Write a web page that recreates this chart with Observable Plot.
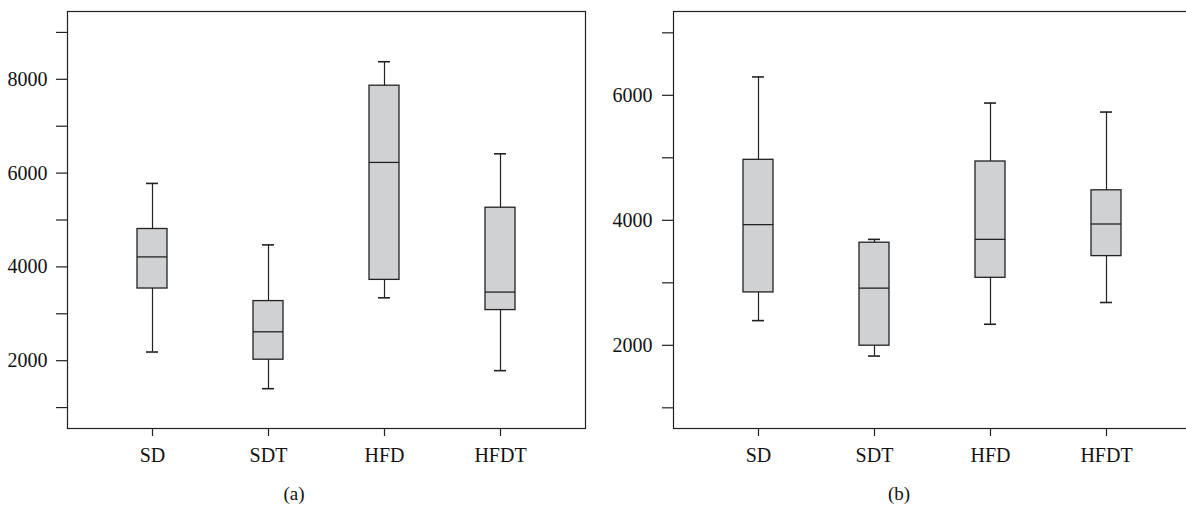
<!DOCTYPE html>
<html>
<head>
<meta charset="utf-8">
<script src="https://cdn.jsdelivr.net/npm/d3@7"></script>
<script src="https://cdn.jsdelivr.net/npm/@observablehq/plot@0.6"></script>
<style>
  html, body { margin: 0; padding: 0; background: #fff; }
  #wrap { position: relative; width: 1186px; height: 505px; overflow: hidden; background: #fff; }
  .panel { position: absolute; top: 0; }
  .cap { position: absolute; width: 100px; text-align: center; font-family: "Liberation Serif", "Times New Roman", serif; font-size: 19px; line-height: 19px; color: #111; }
</style>
</head>
<body>
<div id="wrap"></div>
<script>
const categories = ["SD", "SDT", "HFD", "HFDT"];

// Panel (a)
const aMin = [2185, 1403, 3341, 1787];
const aQ1  = [3539, 2021, 3723, 3079];
const aMed = [4213, 2616, 6228, 3463];
const aQ3  = [4808, 3271, 7864, 5262];
const aMax = [5780, 4469, 8375, 6411];
const aTicks = [1000, 2000, 3000, 4000, 5000, 6000, 7000, 8000, 9000];
const aDomain = [554, 9446];

// Panel (b)
const bMin = [2395, 1828, 2337, 2685];
const bQ1  = [2846, 1994, 3080, 3427];
const bMed = [3931, 2915, 3695, 3941];
const bQ3  = [4968, 3642, 4941, 4480];
const bMax = [6294, 3695, 5876, 5732];
const bTicks = [1000, 2000, 3000, 4000, 5000, 6000, 7000];
const bDomain = [669, 7341];

const panelLabels = ["(a)", "(b)"];

function rows(mins, q1s, meds, q3s, maxs) {
  return categories.map((c, i) => ({cat: c, min: mins[i], q1: q1s[i], med: meds[i], q3: q3s[i], max: maxs[i]}));
}

function boxPlot(data, ticks, domain, opts) {
  const ink = "#222";
  return Plot.plot({
    width: opts.width,
    height: 470,
    marginLeft: opts.marginLeft,
    marginRight: opts.marginRight,
    marginTop: 11,
    marginBottom: 42,
    style: {fontFamily: '"Liberation Serif", "Times New Roman", serif', fontSize: "20px", color: "#111", background: "transparent"},
    x: {type: "band", domain: categories, paddingInner: 0.74, paddingOuter: 0.6, axis: null, label: null},
    y: {domain: domain, axis: null, label: null},
    marks: [
      Plot.ruleX(data, {x: "cat", y1: "min", y2: "max", stroke: ink, strokeWidth: 1.2}),
      Plot.tickY(data, {x: "cat", y: "min", stroke: ink, strokeWidth: 1.6, insetLeft: 9, insetRight: 9}),
      Plot.tickY(data, {x: "cat", y: "max", stroke: ink, strokeWidth: 1.6, insetLeft: 9, insetRight: 9}),
      Plot.barY(data, {x: "cat", y1: "q1", y2: "q3", fill: "#d0d1d3", stroke: ink, strokeWidth: 1.3}),
      Plot.tickY(data, {x: "cat", y: "med", stroke: ink, strokeWidth: 1.3}),
      Plot.axisY({ticks: ticks, tickSize: 11, tickPadding: opts.tickPadding, tickFormat: d => (d % 2000 === 0 ? String(d) : ""), stroke: ink, strokeWidth: 1.2, label: null}),
      Plot.axisX({tickSize: 8, tickPadding: 11, stroke: ink, strokeWidth: 1.2, label: null}),
      Plot.frame({stroke: ink, strokeWidth: 1.2})
    ]
  });
}

const wrap = document.getElementById("wrap");

const pa = boxPlot(rows(aMin, aQ1, aMed, aQ3, aMax), aTicks, aDomain, {width: 593, marginLeft: 67, marginRight: 8, tickPadding: 9});
pa.classList.add("panel");
pa.style.left = "0px";
wrap.appendChild(pa);

const pb = boxPlot(rows(bMin, bQ1, bMed, bQ3, bMax), bTicks, bDomain, {width: 598, marginLeft: 80, marginRight: 0, tickPadding: 10});
pb.classList.add("panel");
pb.style.left = "593px";
wrap.appendChild(pb);

const capCenters = [294, 899];
panelLabels.forEach((t, i) => {
  const d = document.createElement("div");
  d.className = "cap";
  d.textContent = t;
  d.style.left = (capCenters[i] - 50) + "px";
  d.style.top = "484px";
  wrap.appendChild(d);
});
</script>
</body>
</html>
